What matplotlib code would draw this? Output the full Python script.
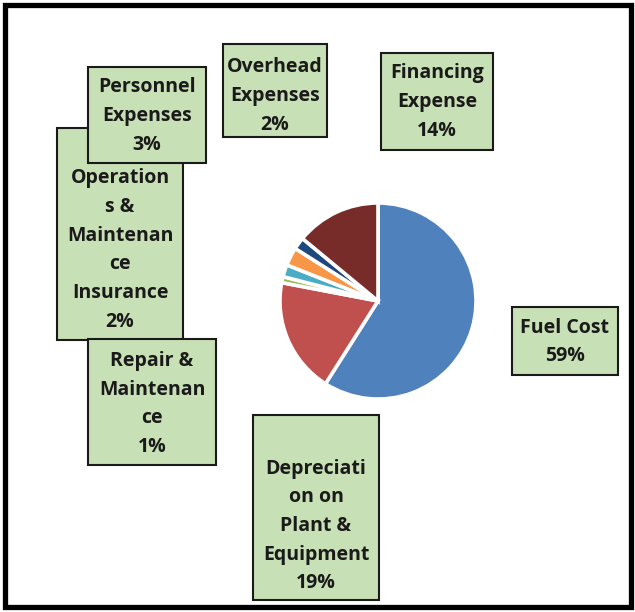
import matplotlib.pyplot as plt
from matplotlib.patches import Rectangle

# cost shares (%), clockwise from 12 o'clock
categories = ['Fuel Cost', 'Depreciation on Plant & Equipment', 'Repair & Maintenance',
              'Operations & Maintenance Insurance', 'Personnel Expenses',
              'Overhead Expenses', 'Financing Expense']
shares = [59, 19, 1, 2, 3, 2, 14]
label_text = ['Fuel Cost', 'Depreciati\non on\nPlant &\nEquipment', 'Repair &\nMaintenan\nce',
              'Operation\ns &\nMaintenan\nce\nInsurance', 'Personnel\nExpenses',
              'Overhead\nExpenses', 'Financing\nExpense']
colors = ['#4f81bd', '#c0504d', '#9bbb59', '#4bacc6', '#f79646', '#1f497d', '#772c2a']

# label boxes in pixels: left, top, right, bottom, text centre x, text centre y
boxes = [
  (512, 307, 618, 375, 565, 342),
  (253, 415, 379, 600, 316, 526),
  (88, 339, 216, 465, 152, 404),
  (57, 128, 183, 340, 120, 250),
  (88, 67, 206, 163, 147, 116),
  (223, 44, 327, 137, 275, 96),
  (381, 53, 493, 150, 437, 102),
]
draw_order = [0, 1, 3, 2, 4, 5, 6]

W, H = 635, 612
fig = plt.figure(figsize=(W/100, H/100), dpi=100)

bg = fig.add_axes([0, 0, 1, 1])
bg.set_xlim(0, W)
bg.set_ylim(H, 0)
bg.axis('off')
bg.add_patch(Rectangle((4.5, 4.5), 626, 602, fill=False, edgecolor='black', linewidth=3.8))

# pie centred at (378, 301), radius 100 px
cx, cy, r = 378, 301, 100
pax = fig.add_axes([(cx - r)/W, (H - cy - r)/H, 2*r/W, 2*r/H])
pax.pie(shares, colors=colors, startangle=90, counterclock=False, radius=1,
        wedgeprops=dict(edgecolor='white', linewidth=2.6))
pax.set_xlim(-1.02, 1.02)
pax.set_ylim(-1.02, 1.02)
pax.set_aspect('equal')
pax.axis('off')

for z, i in enumerate(draw_order):
  x0, y0, x1, y1, tx, ty = boxes[i]
  bg.add_patch(Rectangle((x0, y0), x1 - x0, y1 - y0, facecolor='#c8e0b5',
                         edgecolor='#1a1a1a', linewidth=1.5, zorder=3 + 2*z))
  bg.text(tx, ty, f'{label_text[i]}\n{shares[i]}%', ha='center', va='center',
          fontsize=14, fontweight='bold', family='Open Sans', color='#1a1a1a',
          linespacing=1.58, zorder=4 + 2*z)

fig.savefig('out.png', dpi=100, facecolor='white')
